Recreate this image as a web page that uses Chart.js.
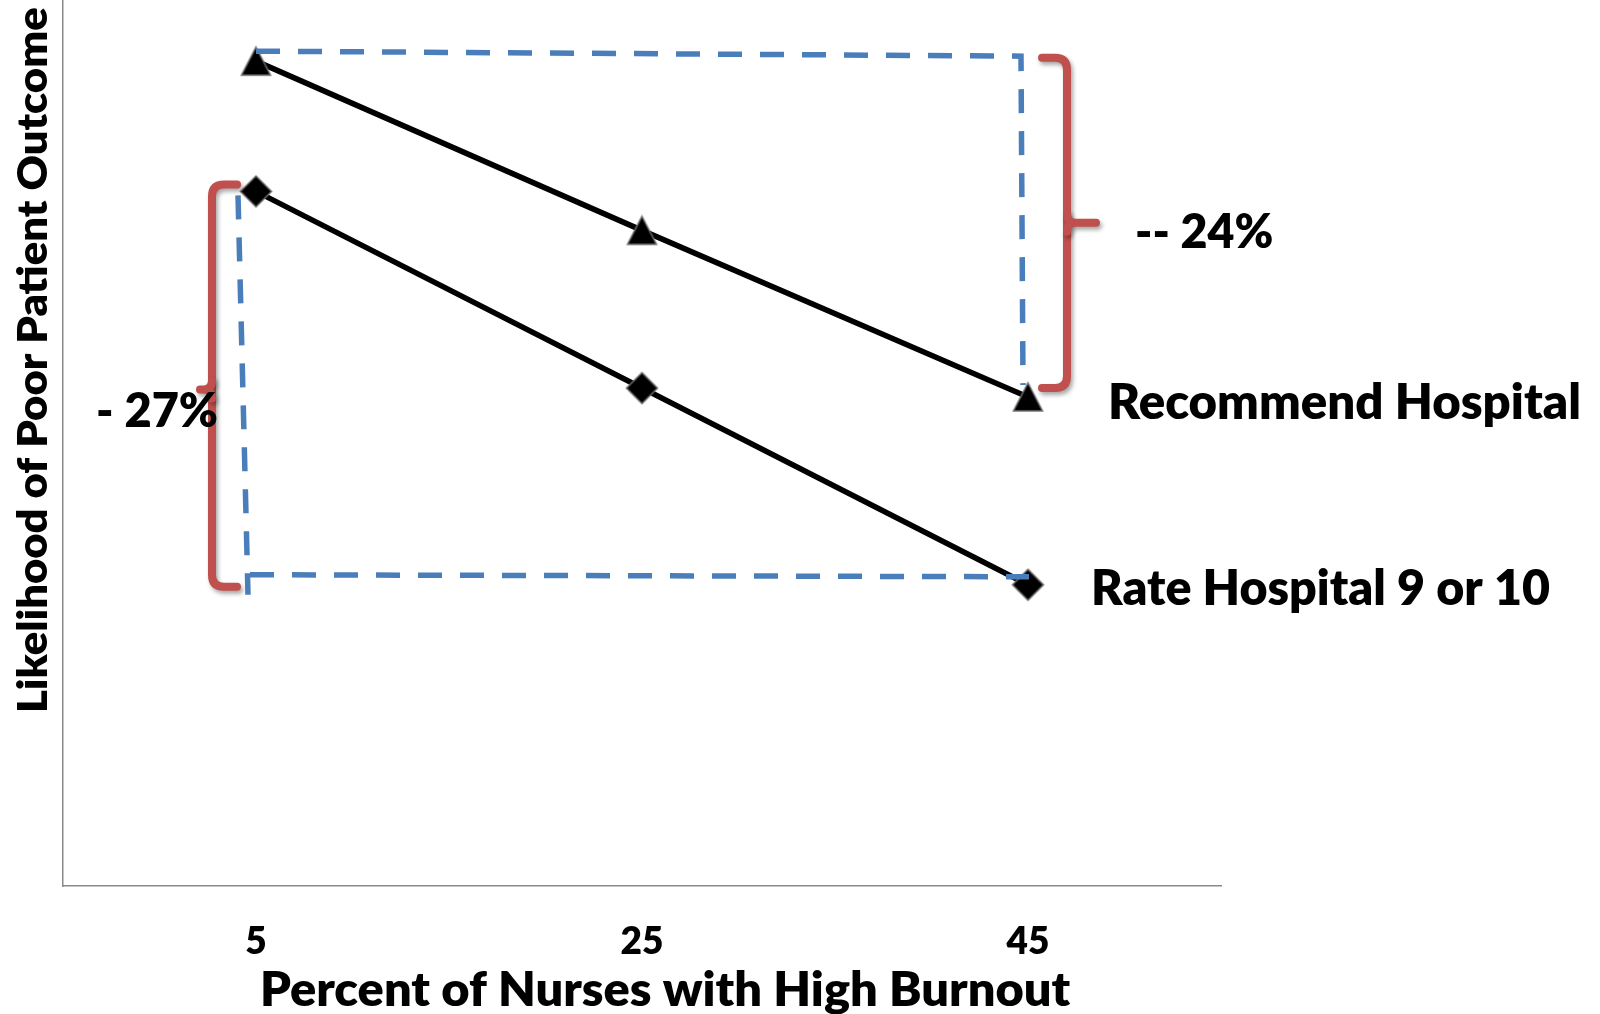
<!DOCTYPE html>
<html><head><meta charset="utf-8">
<script src="https://cdn.jsdelivr.net/npm/chart.js@4.4.1/dist/chart.umd.min.js"></script>
<style>html,body{margin:0;padding:0;background:#fff;overflow:hidden}</style>
</head><body>
<canvas id="c" width="1600" height="1014"></canvas>
<script>
const categories = ['5', '25', '45'];
const recommendHospital = [93.1, 74.0, 55.2];
const rateHospital = [78.4, 56.2, 34.0];
const seriesNames = ['Recommend Hospital', 'Rate Hospital 9 or 10'];
const changeLabels = ['-- 24%', '- 27%'];
const xTitle = 'Percent of Nurses with High Burnout';
const yTitle = 'Likelihood of Poor Patient Outcome';

const FONT = 'Lato, "Open Sans", sans-serif';
const WEIGHT = '800';
const mctx = document.createElement('canvas').getContext('2d');
function inkBox(text, size) {
  mctx.font = `${WEIGHT} ${size}px ${FONT}`;
  const m = mctx.measureText(text);
  return { l: m.actualBoundingBoxLeft, r: m.actualBoundingBoxRight, w: m.actualBoundingBoxLeft + m.actualBoundingBoxRight };
}

function triangleImg(w, h) {
  const pad = 2, c = document.createElement('canvas');
  c.width = w + 2 * pad; c.height = h + 2 * pad;
  const g = c.getContext('2d');
  g.beginPath(); g.moveTo(pad + w / 2, pad); g.lineTo(pad + w, pad + h); g.lineTo(pad, pad + h); g.closePath();
  g.fillStyle = '#000'; g.fill(); g.strokeStyle = '#6d6d6d'; g.lineWidth = 1.5; g.stroke();
  return c;
}
function diamondImg(d) {
  const pad = 2, c = document.createElement('canvas');
  c.width = d + 2 * pad; c.height = d + 2 * pad;
  const g = c.getContext('2d'), m = pad + d / 2;
  g.beginPath(); g.moveTo(m, pad); g.lineTo(pad + d, m); g.lineTo(m, pad + d); g.lineTo(pad, m); g.closePath();
  g.fillStyle = '#000'; g.fill(); g.strokeStyle = '#6d6d6d'; g.lineWidth = 1.5; g.stroke();
  return c;
}

const annot = {
  id: 'annot',
  afterDraw(chart) {
    const { ctx, scales: { x, y }, chartArea } = chart;
    const X = i => x.getPixelForValue(i);
    const T = i => y.getPixelForValue(recommendHospital[i]);
    const D = i => y.getPixelForValue(rateHospital[i]);
    ctx.save();
    // blue dashed guides
    ctx.strokeStyle = '#4a7ebb'; ctx.lineWidth = 5.5; ctx.setLineDash([24, 18]); ctx.lineCap = 'butt';
    const seg = pts => { ctx.beginPath(); ctx.moveTo(pts[0][0], pts[0][1]); for (let i = 1; i < pts.length; i++) ctx.lineTo(pts[i][0], pts[i][1]); ctx.stroke(); };
    seg([[X(0), T(0) - 10], [X(2) - 7, T(0) - 5], [X(2) - 5, T(2) - 12]]);
    seg([[X(0) - 18, D(0) + 4], [X(0) - 8, D(2) + 10]]);
    seg([[X(0) - 6, D(2) - 10], [X(2) + 1, D(2) - 8]]);
    // red braces
    ctx.setLineDash([]); ctx.strokeStyle = '#c0504d'; ctx.lineWidth = 8; ctx.lineCap = 'round'; ctx.lineJoin = 'round';
    ctx.shadowColor = 'rgba(0,0,0,0.35)'; ctx.shadowBlur = 4; ctx.shadowOffsetX = 2; ctx.shadowOffsetY = 3;
    const brace = (top, bot, sp, arm, tip, mid, dir) => {
      const r = 12;
      ctx.beginPath(); ctx.moveTo(arm, top); ctx.lineTo(sp - dir * r, top);
      ctx.quadraticCurveTo(sp, top, sp, top + r); ctx.lineTo(sp, bot - r);
      ctx.quadraticCurveTo(sp, bot, sp - dir * r, bot); ctx.lineTo(arm, bot); ctx.stroke();
      ctx.beginPath(); ctx.moveTo(sp, mid - 9); ctx.quadraticCurveTo(sp, mid, sp + dir * 9, mid); ctx.lineTo(tip, mid);
      ctx.moveTo(sp, mid + 9); ctx.quadraticCurveTo(sp, mid, sp + dir * 9, mid); ctx.stroke();
    };
    const rTop = T(0) - 3.5, rBot = T(2) - 9, rMid = (rTop + rBot) / 2;
    brace(rTop, rBot, X(2) + 39, X(2) + 14, X(2) + 68, rMid, 1);
    const lTop = D(0) - 7, lBot = D(2) + 2, lMid = (lTop + lBot) / 2 + 4;
    brace(lTop, lBot, X(0) - 44, X(0) - 19, X(0) - 56, lMid, -1);
    // texts (size from cap height, squeezed horizontally to the reference width)
    ctx.shadowColor = 'transparent'; ctx.shadowBlur = 0; ctx.shadowOffsetX = 0; ctx.shadowOffsetY = 0;
    ctx.fillStyle = '#000'; ctx.textAlign = 'left'; ctx.textBaseline = 'alphabetic';
    const txt = (t, size, left, base, width) => {
      const b = inkBox(t, size);
      const k = Math.min(1.08, width / b.w);
      ctx.save();
      ctx.translate(left, base);
      ctx.scale(k, 1);
      ctx.font = `${WEIGHT} ${size}px ${FONT}`;
      ctx.fillText(t, b.l, 0);
      ctx.restore();
    };
    txt(seriesNames[0], 50, X(2) + 83, T(2) + 22, 468);
    txt(seriesNames[1], 50, X(2) + 66, D(2) + 20, 455);
    txt(changeLabels[0], 47, X(2) + 109, rMid + 25, 135);
    txt(changeLabels[1], 48, X(0) - 158, lMid + 37, 119);
    txt(xTitle, 47.5, chartArea.left + 200, chart.height - 8, 808);
    ctx.translate(chartArea.left - 16, chartArea.top + 711);
    ctx.rotate(-Math.PI / 2);
    txt(yTitle, 42, 0, 0, 703);
    ctx.restore();
  }
};

new Chart(document.getElementById('c'), {
  type: 'line',
  data: {
    labels: categories,
    datasets: [
      { label: seriesNames[0], data: recommendHospital, borderColor: '#000', backgroundColor: '#000', borderWidth: 5.5,
        tension: 0, pointStyle: triangleImg(29, 28), pointRadius: 15 },
      { label: seriesNames[1], data: rateHospital, borderColor: '#000', backgroundColor: '#000', borderWidth: 5.5,
        tension: 0, pointStyle: diamondImg(31), pointRadius: 15 }
    ]
  },
  options: {
    responsive: false, animation: false,
    layout: { autoPadding: false, padding: { left: 0, right: 379, top: 0, bottom: 0 } },
    plugins: { legend: { display: false }, tooltip: { enabled: false } },
    scales: {
      x: {
        type: 'category', offset: true,
        grid: { display: false, drawTicks: false },
        border: { display: true, color: '#8a8a8a', width: 1.5 },
        ticks: { color: '#000', font: { family: FONT, weight: WEIGHT, size: 37 }, padding: 34, maxRotation: 0 },
        afterFit(s) { s.height = 128; }
      },
      y: {
        min: 0, max: 100,
        grid: { display: false, drawTicks: false },
        border: { display: true, color: '#8a8a8a', width: 1.5 },
        ticks: { display: false },
        afterFit(s) { s.width = 63; }
      }
    }
  },
  plugins: [annot]
});
</script>
</body></html>
